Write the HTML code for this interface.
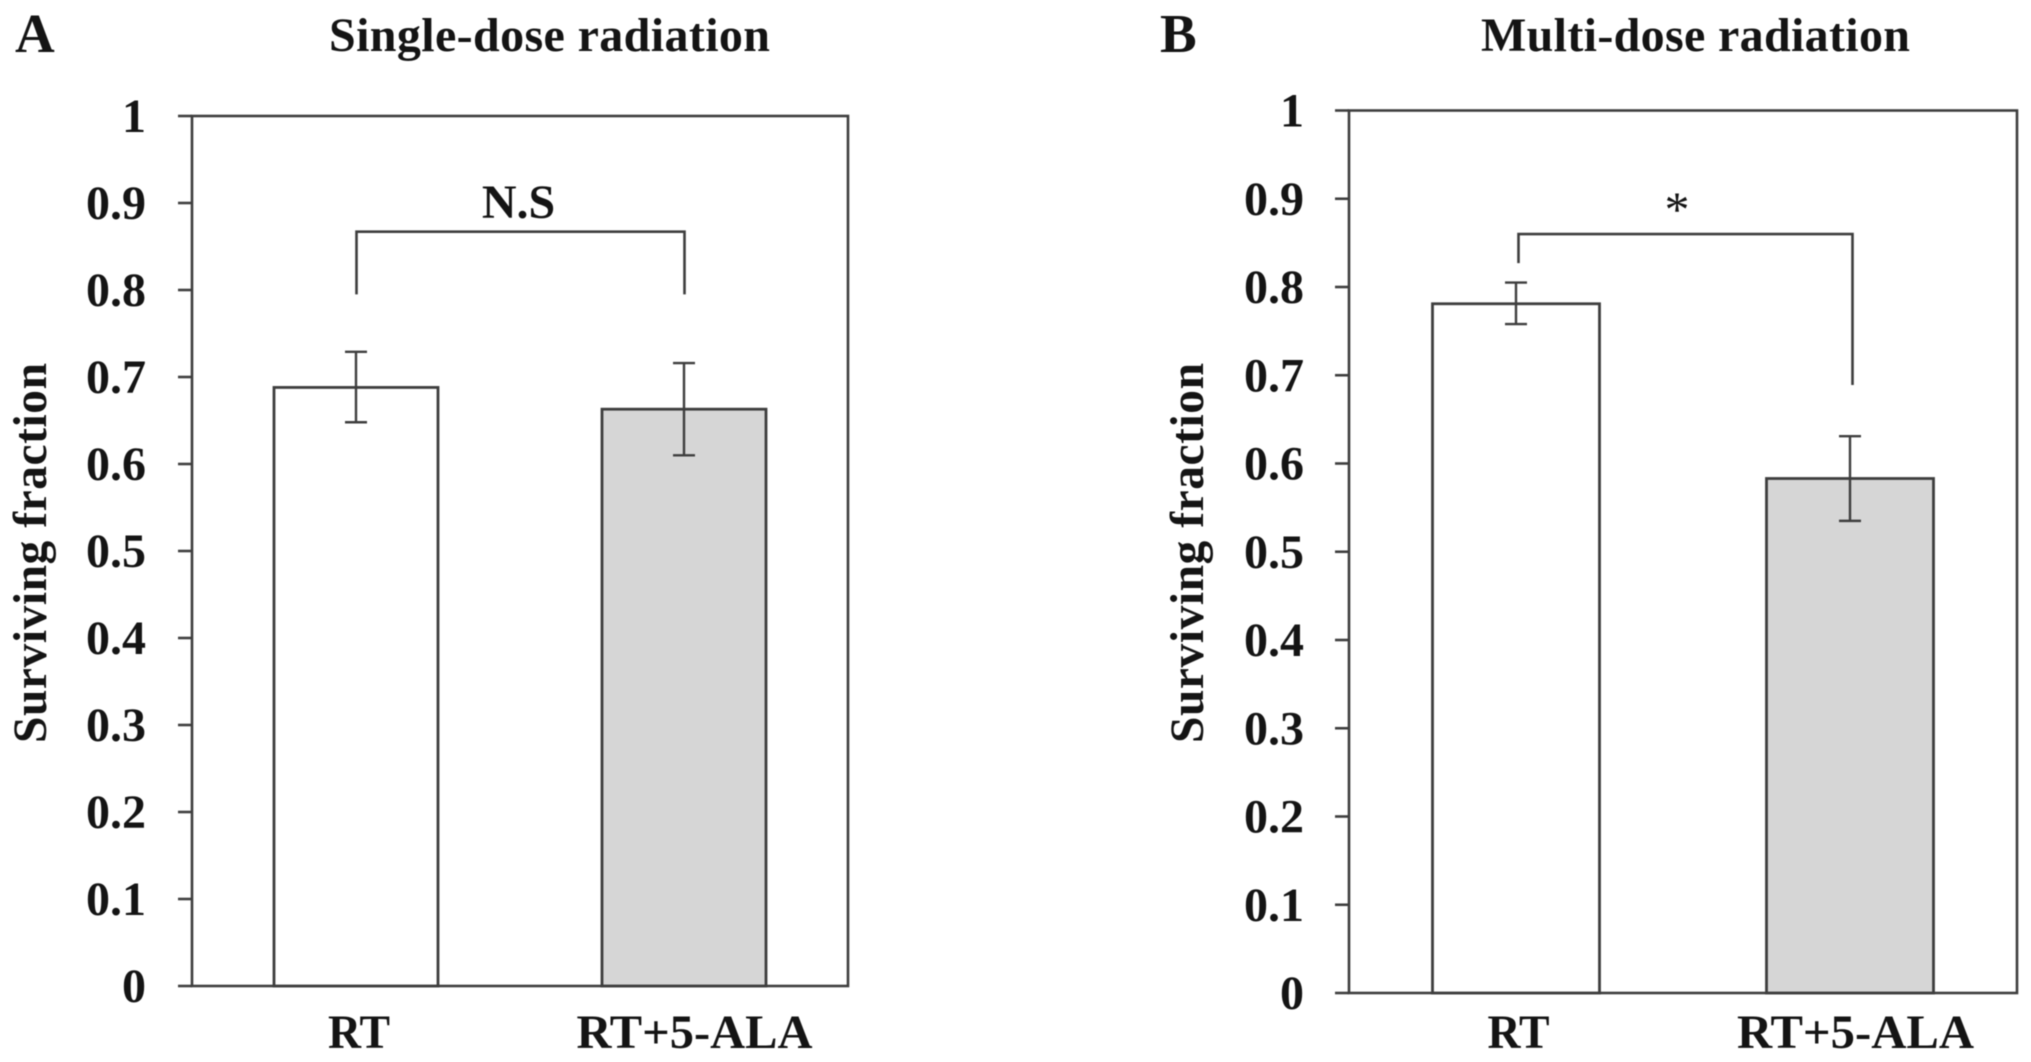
<!DOCTYPE html>
<html lang="en">
<head>
<meta charset="utf-8">
<title>Surviving fraction after radiation</title>
<style>
  html, body { margin: 0; padding: 0; background: #fff; }
  body { width: 2031px; height: 1062px; overflow: hidden; }
  svg { display: block; filter: blur(0.6px); }
  text { font-family: "Liberation Serif", serif; font-weight: bold; fill: #141414; }
</style>
</head>
<body>
<svg id="figure" xmlns="http://www.w3.org/2000/svg" width="2031" height="1062" viewBox="0 0 2031 1062"></svg>
<script>
// ---- Data ----
const categories = ['RT', 'RT+5-ALA'];
const tickLabels = ['0', '0.1', '0.2', '0.3', '0.4', '0.5', '0.6', '0.7', '0.8', '0.9', '1'];

const singleDoseMeans = [0.688, 0.663];
const singleDoseUpper = [0.729, 0.716];
const singleDoseLower = [0.648, 0.610];
const singleDoseBracket = [0.867, 0.795, 0.795];
const singleDoseMark = 'N.S';

const multiDoseMeans = [0.781, 0.583];
const multiDoseUpper = [0.805, 0.631];
const multiDoseLower = [0.758, 0.535];
const multiDoseBracket = [0.860, 0.827, 0.689];
const multiDoseMark = '*';

const barFills = ['#ffffff', '#d6d6d6'];

// ---- Drawing ----
const NS = 'http://www.w3.org/2000/svg';
const LINE = '#3e3e3e';
const figure = document.getElementById('figure');

function make(tag, parent) {
  const el = document.createElementNS(NS, tag);
  parent.appendChild(el);
  return el;
}
function line(parent, x1, y1, x2, y2, width) {
  const el = make('line', parent);
  el.setAttribute('x1', x1);
  el.setAttribute('y1', y1);
  el.setAttribute('x2', x2);
  el.setAttribute('y2', y2);
  el.setAttribute('stroke', LINE);
  el.setAttribute('stroke-width', width);
  return el;
}
function label(parent, content, x, y, size, anchor) {
  const el = make('text', parent);
  el.setAttribute('x', x);
  el.setAttribute('y', y);
  el.setAttribute('font-size', size);
  el.setAttribute('text-anchor', anchor);
  el.textContent = content;
  return el;
}

function drawPanel(cfg) {
  const g = make('g', figure);
  
  

  const yScale = v => cfg.bottom - v * (cfg.bottom - cfg.top);
  const band = (cfg.right - cfg.left) / categories.length;
  const xCenter = i => cfg.left + band * (i + 0.5);
  const barWidth = band * 0.5;

  const letter = label(g, cfg.letter, cfg.letterX, 52, 55, 'start');
  
  

  const title = label(g, cfg.title, cfg.titleX, 51, 48, 'start');
  title.setAttribute('textLength', cfg.titleWidth);
  title.setAttribute('lengthAdjust', 'spacing');
  
  

  const yTitle = label(g, 'Surviving fraction', 0, 0, 47.5, 'start');
  yTitle.setAttribute('transform', 'translate(' + cfg.yTitleX + ',743) rotate(-90)');
  yTitle.setAttribute('textLength', 380);
  yTitle.setAttribute('lengthAdjust', 'spacing');
  
  

  // Plot frame
  const frame = make('rect', g);
  frame.setAttribute('x', cfg.left);
  frame.setAttribute('y', cfg.top);
  frame.setAttribute('width', cfg.right - cfg.left);
  frame.setAttribute('height', cfg.bottom - cfg.top);
  frame.setAttribute('fill', '#ffffff');
  frame.setAttribute('stroke', LINE);
  frame.setAttribute('stroke-width', 2.6);
  
  

  // Y ticks and labels
  tickLabels.forEach(t => {
    const y = yScale(parseFloat(t));
    const tick = line(g, cfg.left - 14, y, cfg.left, y, 2.6);
    
    
    const tl = label(g, t, cfg.left - cfg.tickGap, y + 16, 48, 'end');
    
    
  });

  // Bars, error bars and category labels
  categories.forEach((c, i) => {
    const cx = xCenter(i);
    const top = yScale(cfg.means[i]);
    const bar = make('rect', g);
    bar.setAttribute('x', cx - barWidth / 2);
    bar.setAttribute('y', top);
    bar.setAttribute('width', barWidth);
    bar.setAttribute('height', cfg.bottom - top);
    bar.setAttribute('fill', barFills[i]);
    bar.setAttribute('stroke', LINE);
    bar.setAttribute('stroke-width', 2.8);
    
    

    const eg = make('g', g);
    
    
    const hi = yScale(cfg.upper[i]);
    const lo = yScale(cfg.lower[i]);
    line(eg, cx, hi, cx, lo, 2.4);
    line(eg, cx - 11, hi, cx + 11, hi, 2.4);
    line(eg, cx - 11, lo, cx + 11, lo, 2.4);

    const xl = label(g, c, cx + cfg.labelDx[i], 1048, 48, 'middle');
    xl.setAttribute('textLength', cfg.labelWidth[i]);
    xl.setAttribute('lengthAdjust', 'spacingAndGlyphs');
    
    
  });

  // Significance bracket
  const bx0 = xCenter(0) + cfg.bracketDx;
  const bx1 = xCenter(1) + cfg.bracketDx;
  const bracket = make('polyline', g);
  bracket.setAttribute('points', [
    bx0 + ',' + yScale(cfg.bracket[1]),
    bx0 + ',' + yScale(cfg.bracket[0]),
    bx1 + ',' + yScale(cfg.bracket[0]),
    bx1 + ',' + yScale(cfg.bracket[2])
  ].join(' '));
  bracket.setAttribute('fill', 'none');
  bracket.setAttribute('stroke', LINE);
  bracket.setAttribute('stroke-width', 2.6);
  
  

  const mark = label(g, cfg.mark, cfg.markX, cfg.markY, cfg.markSize, 'middle');
  mark.setAttribute('font-weight', cfg.markWeight);
  mark.style.fontWeight = cfg.markWeight;
  
  
}

drawPanel({
  key: 'single-dose', letter: 'A', letterX: 15, title: 'Single-dose radiation',
  titleX: 329, titleWidth: 441, yTitleX: 46, tickGap: 46,
  left: 192, right: 848, top: 116, bottom: 986,
  means: singleDoseMeans, upper: singleDoseUpper, lower: singleDoseLower,
  bracket: singleDoseBracket, bracketDx: 0.5,
  mark: singleDoseMark, markX: 518.5, markY: 218, markSize: 48, markWeight: 'bold',
  labelDx: [3, 10.5], labelWidth: [62, 236]
});

drawPanel({
  key: 'multi-dose', letter: 'B', letterX: 1160, title: 'Multi-dose radiation',
  titleX: 1481, titleWidth: 429, yTitleX: 1203, tickGap: 45,
  left: 1349, right: 2017, top: 110.5, bottom: 993,
  means: multiDoseMeans, upper: multiDoseUpper, lower: multiDoseLower,
  bracket: multiDoseBracket, bracketDx: 2.5,
  mark: multiDoseMark, markX: 1677, markY: 226, markSize: 50, markWeight: 'normal',
  labelDx: [2.5, 5.5], labelWidth: [62, 237]
});
</script>
</body>
</html>
